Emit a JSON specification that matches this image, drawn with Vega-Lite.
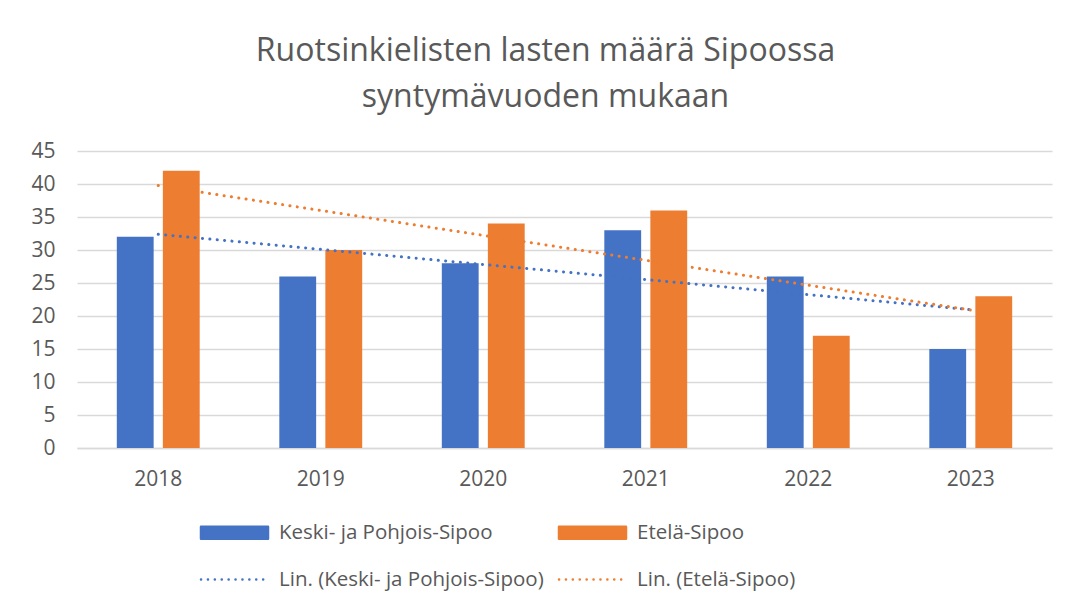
{
  "$schema": "https://vega.github.io/schema/vega-lite/v6.json",
  "autosize": "none",
  "width": 975,
  "height": 297,
  "padding": {"left": 77, "top": 151, "right": 23, "bottom": 159},
  "background": "white",
  "config": {
    "font": "Open Sans",
    "view": {"stroke": null},
    "title": {"font": "Open Sans", "fontSize": 32, "fontWeight": "normal", "color": "#595959", "lineHeight": 46}
  },
  "title": {
    "text": ["Ruotsinkielisten lasten määrä Sipoossa", "syntymävuoden mukaan"],
    "anchor": "middle",
    "frame": "group",
    "dx": -19,
    "offset": 26
  },
  "data": {
    "values": [
      {"year": 2018, "area": "Keski- ja Pohjois-Sipoo", "trend": "Lin. (Keski- ja Pohjois-Sipoo)", "count": 32},
      {"year": 2019, "area": "Keski- ja Pohjois-Sipoo", "trend": "Lin. (Keski- ja Pohjois-Sipoo)", "count": 26},
      {"year": 2020, "area": "Keski- ja Pohjois-Sipoo", "trend": "Lin. (Keski- ja Pohjois-Sipoo)", "count": 28},
      {"year": 2021, "area": "Keski- ja Pohjois-Sipoo", "trend": "Lin. (Keski- ja Pohjois-Sipoo)", "count": 33},
      {"year": 2022, "area": "Keski- ja Pohjois-Sipoo", "trend": "Lin. (Keski- ja Pohjois-Sipoo)", "count": 26},
      {"year": 2023, "area": "Keski- ja Pohjois-Sipoo", "trend": "Lin. (Keski- ja Pohjois-Sipoo)", "count": 15},
      {"year": 2018, "area": "Etelä-Sipoo", "trend": "Lin. (Etelä-Sipoo)", "count": 42},
      {"year": 2019, "area": "Etelä-Sipoo", "trend": "Lin. (Etelä-Sipoo)", "count": 30},
      {"year": 2020, "area": "Etelä-Sipoo", "trend": "Lin. (Etelä-Sipoo)", "count": 34},
      {"year": 2021, "area": "Etelä-Sipoo", "trend": "Lin. (Etelä-Sipoo)", "count": 36},
      {"year": 2022, "area": "Etelä-Sipoo", "trend": "Lin. (Etelä-Sipoo)", "count": 17},
      {"year": 2023, "area": "Etelä-Sipoo", "trend": "Lin. (Etelä-Sipoo)", "count": 23}
    ]
  },
  "encoding": {
    "x": {
      "field": "year",
      "type": "ordinal",
      "scale": {"paddingInner": 0.49, "paddingOuter": 0.245},
      "axis": {
        "title": null,
        "labelAngle": 0,
        "ticks": false,
        "domainColor": "#D9D9D9",
        "domainWidth": 1.5,
        "labelPadding": 20,
        "labelFontSize": 21,
        "labelColor": "#595959",
        "labelFont": "Open Sans",
        "grid": false
      }
    },
    "y": {
      "field": "count",
      "type": "quantitative",
      "scale": {"domain": [0, 45], "nice": false},
      "axis": {
        "title": null,
        "values": [0, 5, 10, 15, 20, 25, 30, 35, 40, 45],
        "domain": false,
        "ticks": false,
        "gridColor": "#D9D9D9",
        "gridWidth": 1.5,
        "labelPadding": 22,
        "labelFontSize": 21,
        "labelColor": "#595959",
        "labelFont": "Open Sans"
      }
    }
  },
  "layer": [
    {
      "mark": {"type": "bar"},
      "encoding": {
        "xOffset": {"field": "area", "type": "nominal", "sort": ["Keski- ja Pohjois-Sipoo", "Etelä-Sipoo"], "scale": {"paddingInner": 0.2, "paddingOuter": 0}},
        "color": {
          "field": "area",
          "type": "nominal",
          "scale": {
            "domain": ["Keski- ja Pohjois-Sipoo", "Etelä-Sipoo", "Lin. (Keski- ja Pohjois-Sipoo)", "Lin. (Etelä-Sipoo)"],
            "range": ["#4472C4", "#ED7D31", "#4472C4", "#ED7D31"]
          },
          "legend": {
            "title": null,
            "orient": "none",
            "legendX": 123,
            "legendY": 370,
            "direction": "horizontal",
            "columns": 2,
            "gridAlign": "all",
            "columnPadding": 10,
            "rowPadding": 24,
            "labelFontSize": 20.5,
            "labelLimit": 0,
            "labelColor": "#595959",
            "labelFont": "Open Sans",
            "symbolSize": 400,
            "symbolOffset": 23,
            "labelOffset": 33,
            "encode": {
              "symbols": {
                "update": {
                  "shape": {"signal": "indexof(datum.label, 'Lin.') == 0 ? 'M-3.35,0H3.0' : 'M-3.35,-0.6H3.35V0.6H-3.35Z'"},
                  "fill": {"signal": "indexof(datum.label, 'Lin.') == 0 ? 'transparent' : (datum.label == 'Etelä-Sipoo' ? '#ED7D31' : '#4472C4')"},
                  "stroke": {"signal": "indexof(datum.label, 'Lin.') == 0 ? (datum.label == 'Lin. (Etelä-Sipoo)' ? '#ED7D31' : '#4472C4') : 'transparent'"},
                  "strokeWidth": {"value": 2.5},
                  "strokeDash": {"signal": "indexof(datum.label, 'Lin.') == 0 ? [0.1, 6.8] : [1, 0]"},
                  "strokeCap": {"value": "round"},
                  "opacity": {"value": 1}
                }
              }
            }
          }
        }
      }
    },
    {
      "transform": [
        {"regression": "count", "on": "year", "groupby": ["trend"]}
      ],
      "mark": {"type": "line", "strokeWidth": 3, "strokeDash": [0.1, 7.3], "strokeCap": "round"},
      "encoding": {
        "color": {
          "field": "trend",
          "type": "nominal",
          "scale": {
            "domain": ["Keski- ja Pohjois-Sipoo", "Etelä-Sipoo", "Lin. (Keski- ja Pohjois-Sipoo)", "Lin. (Etelä-Sipoo)"],
            "range": ["#4472C4", "#ED7D31", "#4472C4", "#ED7D31"]
          }
        }
      }
    }
  ]
}
